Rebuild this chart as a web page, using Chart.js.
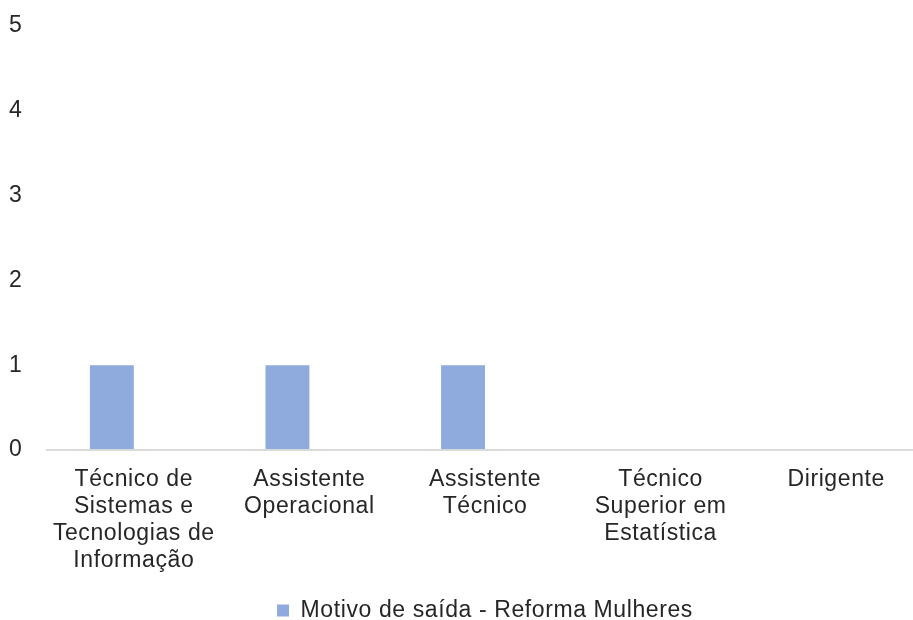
<!DOCTYPE html>
<html>
<head>
<meta charset="utf-8">
<script src="https://cdn.jsdelivr.net/npm/chart.js@4"></script>
<style>
  html, body { margin: 0; padding: 0; background: #fff; overflow: hidden; }
  #wrap { width: 924px; height: 620px; }
</style>
</head>
<body>
<div id="wrap"><canvas id="grafico"></canvas></div>
<script>
const categorias = [
  ['Técnico de', 'Sistemas e', 'Tecnologias de', 'Informação'],
  ['Assistente', 'Operacional'],
  ['Assistente', 'Técnico'],
  ['Técnico', 'Superior em', 'Estatística'],
  ['Dirigente']
];
const reformaMulheres = [1, 1, 1, 0, 0];
const serieVazia = [null, null, null, null, null]; // segunda série sem valores (ocupa o lado direito)
const ticksY = [0, 1, 2, 3, 4, 5];

const fonte = { family: 'Liberation Sans, Arial, sans-serif', size: 23 };
const corTexto = '#262626';

// espaçamento entre letras parecido com o do Excel
const espacamento = {
  id: 'espacamento',
  beforeLayout: chart => { chart.ctx.letterSpacing = '0.6px'; },
  beforeDraw: chart => { chart.ctx.letterSpacing = '0.6px'; }
};

new Chart(document.getElementById('grafico'), {
  type: 'bar',
  plugins: [espacamento],
  data: {
    labels: categorias,
    datasets: [{
      label: 'Motivo de saída - Reforma Mulheres',
      data: reformaMulheres,
      backgroundColor: '#8faadc',
      borderWidth: 0
    }, {
      label: 'vazio',
      data: serieVazia,
      backgroundColor: '#ffffff'
    }]
  },
  options: {
    responsive: true,
    maintainAspectRatio: false,
    animation: false,
    layout: { padding: { top: 26, left: 9, right: 0, bottom: -12 } },
    datasets: {
      bar: { categoryPercentage: 0.5, barPercentage: 1 }
    },
    plugins: {
      tooltip: { enabled: false },
      legend: {
        position: 'bottom',
        fullSize: false,
        labels: {
          filter: item => item.datasetIndex === 0,
          boxWidth: 12,
          boxHeight: 12,
          padding: 0,
          color: corTexto,
          font: fonte
        }
      }
    },
    scales: {
      x: {
        grid: { display: false, drawTicks: false },
        border: { display: false },
        afterFit: scale => { scale.height = 149; },
        ticks: {
          color: corTexto,
          font: { ...fonte, lineHeight: 27 / 23 },
          maxRotation: 0,
          autoSkip: false,
          padding: 16
        }
      },
      y: {
        min: 0,
        max: 5,
        afterFit: scale => { scale.width = 37; },
        afterBuildTicks: scale => { scale.ticks = ticksY.map(v => ({ value: v })); },
        border: { display: false },
        grid: {
          drawTicks: false,
          lineWidth: 2,
          color: ctx => ctx.tick && ctx.tick.value === 0 ? '#d9d9d9' : 'rgba(0,0,0,0)'
        },
        ticks: {
          color: corTexto,
          font: fonte,
          padding: 0,
          crossAlign: 'far'
        }
      }
    }
  }
});
</script>
</body>
</html>
